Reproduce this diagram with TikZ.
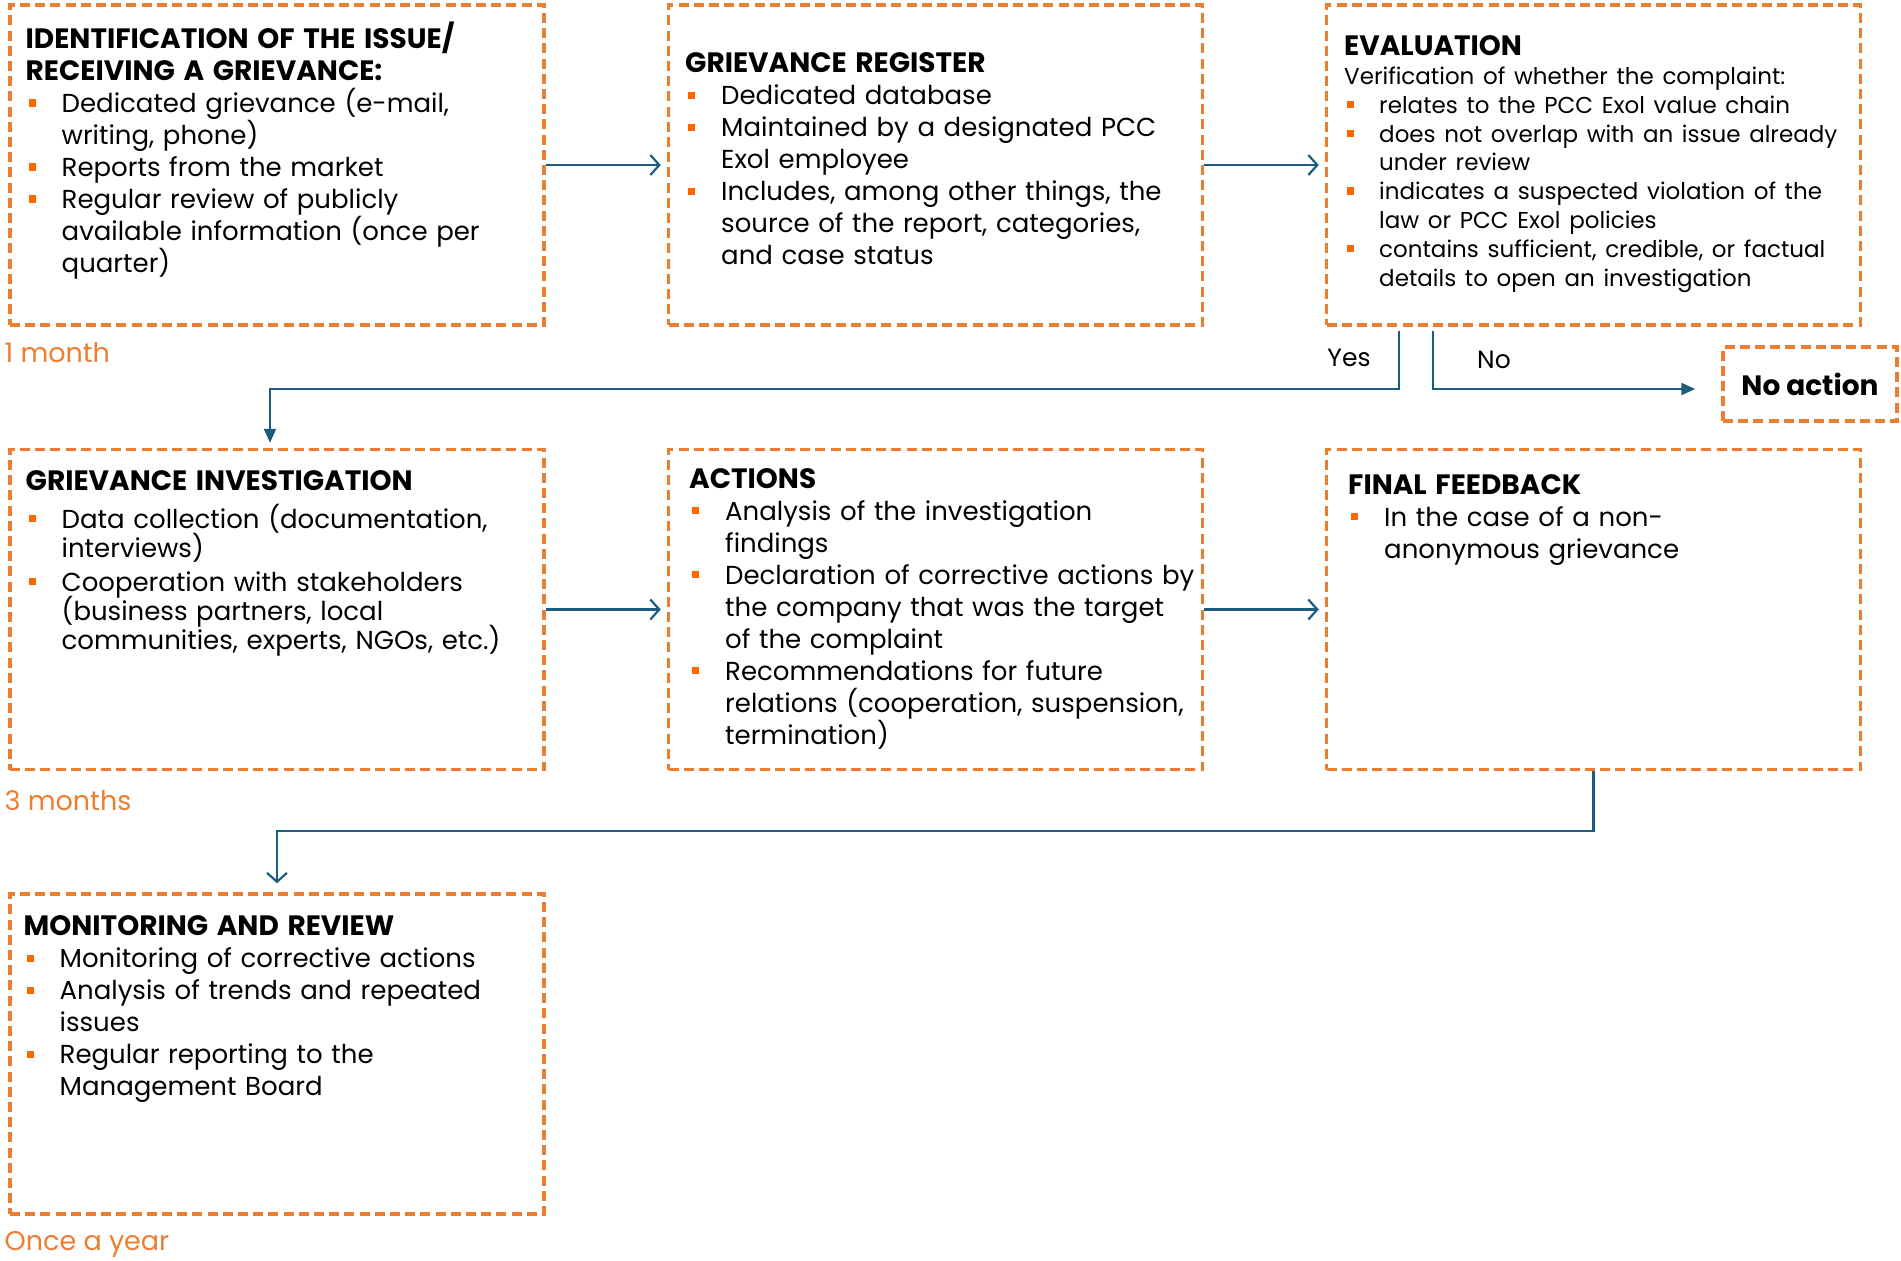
\documentclass[tikz,border=0pt]{standalone}
\usepackage{fontspec}
\setmainfont{Poppins}
\usepackage{enumitem}
\usepackage{tikz}
\usetikzlibrary{positioning,arrows.meta}
\definecolor{dashorange}{RGB}{237,125,49}
\definecolor{bulletorange}{RGB}{255,102,0}
\definecolor{flowblue}{RGB}{28,92,126}
\setlist[itemize]{label={\color{bulletorange}\rule[0.22em]{3.6pt}{3.6pt}},
  leftmargin=18pt, labelindent=1.5pt, labelwidth=3.6pt, labelsep=*, align=left,
  itemsep=0pt, topsep=0pt, parsep=0pt, partopsep=0pt}
\newcommand{\stagetitle}[1]{{\fontsize{14}{16}\selectfont\bfseries #1}\par}

\begin{document}
\begin{tikzpicture}[x=0.5pt,y=-0.5pt,
  stage/.style={draw=dashorange, line width=1.7pt, dash pattern=on 5pt off 2.6pt,
    minimum width=267pt, minimum height=160pt, inner sep=0pt},
  stagetext/.style={anchor=north west, inner sep=0pt, text width=300pt, align=left,
    font=\fontsize{13}{16}\selectfont},
  timelabel/.style={anchor=west, inner sep=0pt, text=dashorange, font=\fontsize{13.5}{15}\selectfont},
  flow/.style={draw=flowblue, line width=1.1pt, -{Straight Barb[length=4.5pt,width=10pt]}},
  decision/.style={draw=flowblue, line width=1.1pt, -{Triangle[length=7pt,width=6pt]}},
  answer/.style={inner sep=0pt, font=\fontsize{12.5}{14}\selectfont}]

\useasboundingbox (0,0) rectangle (1901,1260);

% Boxes
\node[stage] (b1) at (277,165) {};
\node[stage] (b2) at (935.5,165) {};
\node[stage] (b3) at (1593.5,165) {};
\node[stage] (b4) at (277,609.5) {};
\node[stage] (b5) at (935.5,609.5) {};
\node[stage] (b6) at (1593.5,609.5) {};
\node[stage] (b7) at (277,1054) {};
\node[stage, minimum width=87pt, minimum height=37pt, font=\fontsize{14}{16}\selectfont\bfseries]
  (noaction) at (1810,384) {No action};

% Box texts
\node[stagetext] (t1) at ([shift={(17,18)}]b1.north west) {%
  \stagetitle{IDENTIFICATION OF THE ISSUE/\\RECEIVING A GRIEVANCE:}
  \begin{itemize}
    \item Dedicated grievance (e-mail,\\writing, phone)
    \item Reports from the market
    \item Regular review of publicly\\available information (once per\\quarter)
  \end{itemize}};
\node[stagetext] (t2) at ([shift={(18,49)}]b2.north west) {%
  \stagetitle{GRIEVANCE REGISTER}
  \begin{itemize}
    \item Dedicated database
    \item Maintained by a designated PCC\\Exol employee
    \item Includes, among other things, the\\source of the report, categories,\\and case status
  \end{itemize}};
\node[stagetext] (t3) at ([shift={(19,32)}]b3.north west) {%
  \stagetitle{EVALUATION}
  {\fontsize{11.5}{14.4}\selectfont
  Verification of whether the complaint:
  \begin{itemize}[leftmargin=17.5pt]
    \item relates to the PCC Exol value chain
    \item does not overlap with an issue already\\under review
    \item indicates a suspected violation of the\\law or PCC Exol policies
    \item contains sufficient, credible, or factual\\details to open an investigation
  \end{itemize}}};
\node[stagetext] (t4) at ([shift={(17,22)}]b4.north west) {%
  \stagetitle{GRIEVANCE INVESTIGATION}
  \vspace{4.5pt}
  {\fontsize{13}{14.5}\selectfont\lineskiplimit=-6pt
  \begin{itemize}[itemsep=2.5pt]
    \item Data collection (documentation,\\interviews)
    \item Cooperation with stakeholders\\(business partners, local\\communities, experts, NGOs, etc.)
  \end{itemize}}};
\node[stagetext] (t5) at ([shift={(22,20)}]b5.north west) {%
  \stagetitle{ACTIONS}
  \begin{itemize}
    \item Analysis of the investigation\\findings
    \item Declaration of corrective actions by\\the company that was the target\\of the complaint
    \item Recommendations for future\\relations (cooperation, suspension,\\termination)
  \end{itemize}};
\node[stagetext] (t6) at ([shift={(23,26)}]b6.north west) {%
  \stagetitle{FINAL FEEDBACK}
  \begin{itemize}
    \item In the case of a non-\\anonymous grievance
  \end{itemize}};
\node[stagetext] (t7) at ([shift={(15,23)}]b7.north west) {%
  \stagetitle{MONITORING AND REVIEW}
  \begin{itemize}
    \item Monitoring of corrective actions
    \item Analysis of trends and repeated\\issues
    \item Regular reporting to the\\Management Board
  \end{itemize}};

% Time labels
\node[timelabel] (m1) at ([shift={(-4,26)}]b1.south west) {1 month};
\node[timelabel] (m3) at ([shift={(-4,29)}]b4.south west) {3 months};
\node[timelabel] (m12) at ([shift={(-4,29)}]b7.south west) {Once a year};

% Arrows
\draw[flow, shorten >=3pt] (b1.east) -- (b2.west);
\draw[flow, shorten >=3pt] (b2.east) -- (b3.west);
\draw[flow, shorten >=3pt] (b4.east) -- (b5.west);
\draw[flow, shorten >=3pt] (b5.east) -- (b6.west);

% Decision
\coordinate (yesstart) at ([shift={(74,4)}]b3.south west);
\coordinate (nostart) at ([shift={(108,4)}]b3.south west);
\coordinate (yesrow) at (0,389);
\coordinate (yesend) at ([shift={(-7,-5)}]b4.north);
\draw[decision] (yesstart) -- (yesstart |- yesrow) -| (yesend);
\draw[decision, shorten >=13pt] (nostart) -- (nostart |- yesrow) -- (yesrow -| noaction.west);
\node[answer] (yes) at (1349,358) {Yes};
\node[answer] (no) at (1494,360) {No};

% Feedback
\draw[flow, shorten >=4.5pt] (b6.south) -- ++(0,60) -| (b7.north);

\end{tikzpicture}
\end{document}
